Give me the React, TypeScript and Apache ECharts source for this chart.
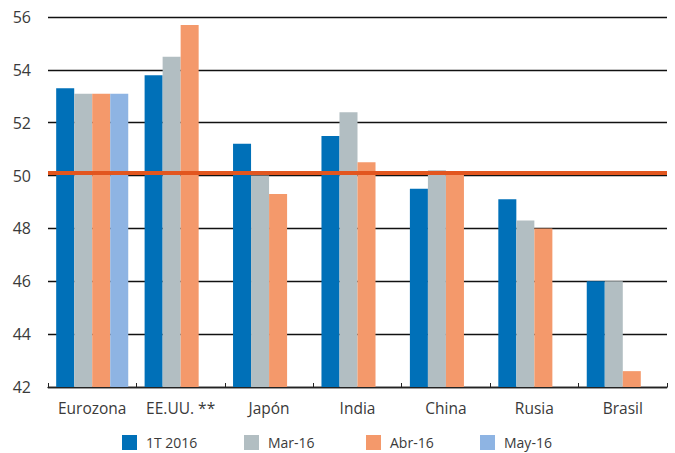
import React, { useEffect, useRef } from "react";
import * as echarts from "echarts";

// Países / regiones
const categories = ["Eurozona", "EE.UU. **", "Japón", "India", "China", "Rusia", "Brasil"];

// Índices PMI compuestos por periodo
const seriesNames = ["1T 2016", "Mar-16", "Abr-16", "May-16"];
const q1_2016 = [53.3, 53.8, 51.2, 51.5, 49.5, 49.1, 46.0];
const mar16 = [53.1, 54.5, 50.0, 52.4, 50.2, 48.3, 46.0];
const abr16 = [53.1, 55.7, 49.3, 50.5, 50.1, 48.0, 42.6];
const may16: (number | string)[] = [53.1, "-", "-", "-", "-", "-", "-"];

// Umbral de expansión / contracción
const threshold = 50.1;

const yMin = 42;
const yMax = 56;
const yStep = 2;

const colors = ["#0070B8", "#B2BEC2", "#F4996B", "#8EB4E3"];
const legendLefts = [122, 244, 366, 480];
const FONT = "'Open Sans', sans-serif";

export default function App() {
  const ref = useRef<HTMLDivElement>(null);

  useEffect(() => {
    if (!ref.current) return;
    const chart = echarts.init(ref.current, undefined, { renderer: "svg" });
    const values = [q1_2016, mar16, abr16, may16];

    chart.setOption({
      animation: false,
      color: colors,
      textStyle: { fontFamily: FONT },
      grid: { left: 48, right: 8, top: 17, bottom: 66, containLabel: false },
      legend: seriesNames.map((name, i) => ({
        data: [name],
        left: legendLefts[i],
        top: 435,
        padding: 0,
        icon: "rect",
        itemWidth: 15,
        itemHeight: 15,
        textStyle: {
          fontFamily: FONT,
          fontSize: 14,
          color: "#3a3a3a",
          padding: [0, 0, 0, 4],
        },
      })),
      xAxis: {
        type: "category",
        data: categories,
        axisLine: { show: true, lineStyle: { color: "#222", width: 1.3 } },
        axisTick: { show: true, inside: true, length: 4, lineStyle: { color: "#222" } },
        axisLabel: { fontFamily: FONT, fontSize: 15.5, color: "#3a3a3a", margin: 13, interval: 0 },
      },
      yAxis: {
        type: "value",
        min: yMin,
        max: yMax,
        interval: yStep,
        axisLine: { show: false },
        axisTick: { show: false },
        splitLine: { lineStyle: { color: "#111", width: 1.3 } },
        axisLabel: { fontFamily: FONT, fontSize: 16, color: "#3a3a3a", margin: 17 },
      },
      series: [
        ...seriesNames.map((name, i) => ({
          name,
          type: "bar",
          data: values[i],
          barGap: "0%",
          barCategoryGap: "18.5%",
          itemStyle: { color: colors[i] },
        })),
        {
          name: "umbral",
          type: "line",
          data: [],
          z: 10,
          silent: true,
          markLine: {
            silent: true,
            symbol: "none",
            label: { show: false },
            lineStyle: { color: "#E2561F", width: 4, type: "solid" },
            data: [{ yAxis: threshold }],
          },
        },
      ],
    });

    return () => chart.dispose();
  }, []);

  return (
    <div
      ref={ref}
      style={{ position: "fixed", left: 0, top: 0, width: 675, height: 453, background: "#fff" }}
    />
  );
}
